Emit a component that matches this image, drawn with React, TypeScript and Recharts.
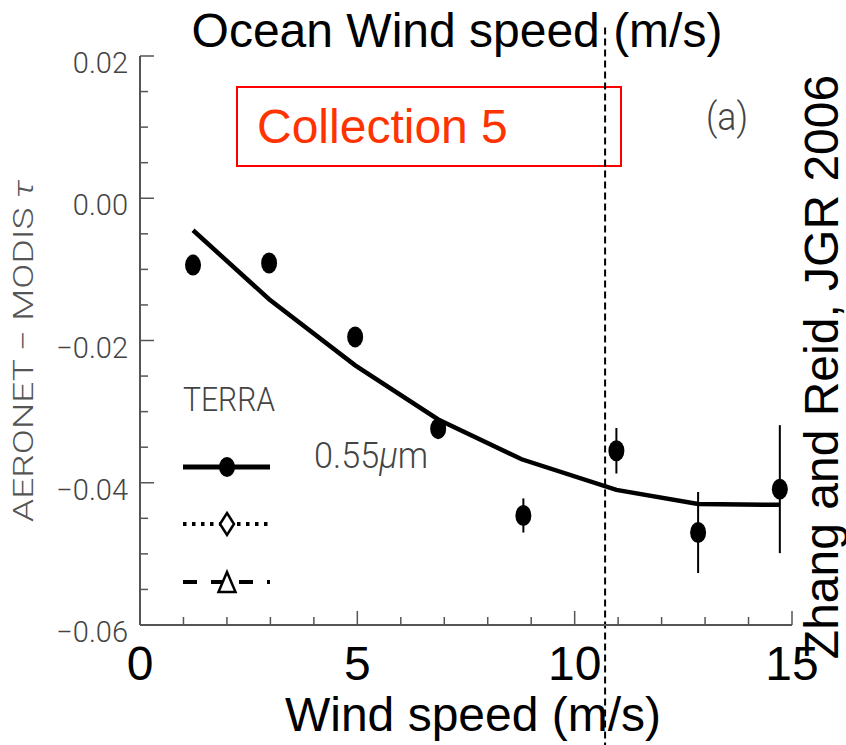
import { ComposedChart, Line, Scatter, ErrorBar, XAxis, YAxis, ReferenceLine } from 'recharts';

// binned wind speed (m/s) and mean AERONET - MODIS difference
const windBins = [1.22, 2.97, 4.95, 6.86, 8.82, 10.96, 12.84, 14.72];
const meanDiff = [-0.0094, -0.0091, -0.0195, -0.0324, -0.0446, -0.0355, -0.047, -0.0409];
const diffErr = [0.0008, 0.0008, 0.0008, 0.0012, 0.0024, 0.0032, 0.0057, 0.009];

// fitted curve
const fitWind = [1.22, 2.97, 4.95, 6.86, 8.78, 10.96, 12.84, 14.72];
const fitDiff = [-0.0045, -0.0142, -0.0235, -0.0311, -0.0367, -0.041, -0.043, -0.0431];

const xTicks = [0, 1, 2, 3, 4, 5, 6, 7, 8, 9, 10, 11, 12, 13, 14, 15];
const xLabelTicks = [0, 5, 10, 15];
const yTicks = [
  -0.06, -0.055, -0.05, -0.045, -0.04, -0.035, -0.03, -0.025, -0.02, -0.015, -0.01, -0.005, 0, 0.005, 0.01,
  0.015, 0.02,
];
const yLabelTicks = [-0.06, -0.04, -0.02, 0, 0.02];
const cutoffWind = 10.7;

const points = windBins.map((w, i) => ({ wind: w, diff: meanDiff[i], err: diffErr[i] }));
const fit = fitWind.map((w, i) => ({ wind: w, fit: fitDiff[i] }));

const frame = '#555';
const arial = "'Liberation Sans', Arial, sans-serif";
const thin = "Roboto, 'DejaVu Sans', sans-serif";

const isLabel = (list: number[], v: number) => list.some((t) => Math.abs(t - v) < 1e-9);

function BottomTick(props: any) {
  const { x, y, payload } = props;
  const major = isLabel(xLabelTicks, payload.value);
  return (
    <g>
      <line x1={x} y1={y} x2={x} y2={y - (major ? 14 : 8)} stroke={frame} strokeWidth={1.5} />
      {major && (
        <text x={x} y={y + 55} textAnchor="middle" fontSize={48} fontFamily={arial} fill="#000">
          {payload.value}
        </text>
      )}
    </g>
  );
}

function TopTick(props: any) {
  const { x, y, payload } = props;
  const major = isLabel(xLabelTicks, payload.value);
  return <line x1={x} y1={y} x2={x} y2={y + (major ? 14 : 8)} stroke={frame} strokeWidth={1.5} />;
}

function LeftTick(props: any) {
  const { x, y, payload } = props;
  const v = payload.value;
  const major = isLabel(yLabelTicks, v);
  const s = Math.abs(v).toFixed(2);
  return (
    <g>
      <line x1={x} y1={y} x2={x + (major ? 14 : 8)} y2={y} stroke={frame} strokeWidth={1.5} />
      {major && (
        <text x={x - 12} y={y + 17} textAnchor="end" fontSize={29} fontFamily={thin} fontWeight={300} fill="#444">
          {v < -1e-9 ? '\u2212' + s : s}
        </text>
      )}
    </g>
  );
}

function RightTick(props: any) {
  const { x, y, payload } = props;
  const major = isLabel(yLabelTicks, payload.value);
  return <line x1={x} y1={y} x2={x - (major ? 14 : 8)} y2={y} stroke={frame} strokeWidth={1.5} />;
}

const EllipseDot = (props: any) => <ellipse cx={props.cx} cy={props.cy} rx={8} ry={10.5} fill="#000" />;

function Annotations() {
  return (
    <svg width={846} height={745} style={{ position: 'absolute', left: 0, top: 0 }}>
      <text x={457} y={47} textAnchor="middle" fontSize={48} fontFamily={arial} fill="#000">
        Ocean Wind speed (m/s)
      </text>
      <text x={473} y={731} textAnchor="middle" fontSize={48} fontFamily={arial} fill="#000">
        Wind speed (m/s)
      </text>
      <text
        transform="translate(33,351) rotate(-90)"
        textAnchor="middle"
        fontSize={28}
        fontFamily={thin}
        fontWeight={300}
        fill="#555"
        textLength={342}
        lengthAdjust="spacingAndGlyphs"
      >
        AERONET {'\u2212'} MODIS <tspan fontStyle="italic">τ</tspan>
      </text>
      <text transform="translate(838,367) rotate(-90)" textAnchor="middle" fontSize={48} fontFamily={arial} fill="#000">
        Zhang and Reid, JGR 2006
      </text>
      <rect x={237} y={87} width={384} height={79} fill="none" stroke="#ff0000" strokeWidth={2} />
      <text x={257} y={143} fontSize={48} fontFamily={arial} fill="#ff3300">
        Collection 5
      </text>
      <text x={706} y={130} fontSize={38} fontFamily={thin} fontWeight={300} fill="#444" textLength={42} lengthAdjust="spacingAndGlyphs">
        (a)
      </text>
      <text x={183} y={411} fontSize={34} fontFamily={thin} fontWeight={300} fill="#444" textLength={92} lengthAdjust="spacingAndGlyphs">
        TERRA
      </text>
      <text x={314} y={468} fontSize={36} fontFamily={thin} fontWeight={300} fill="#444" textLength={114} lengthAdjust="spacingAndGlyphs">
        0.55<tspan fontStyle="italic">μ</tspan>m
      </text>
      {/* legend: solid + dot */}
      <line x1={183} y1={467} x2={270} y2={467} stroke="#000" strokeWidth={5} />
      <ellipse cx={227} cy={467} rx={8} ry={10} fill="#000" />
      {/* dotted + diamond */}
      <line x1={183} y1={524} x2={268} y2={524} stroke="#000" strokeWidth={4} strokeDasharray="3.5 5.5" />
      <polygon points="227,513 234,524 227,535 220,524" fill="#fff" stroke="#000" strokeWidth={2.5} />
      {/* dashed + triangle */}
      <line x1={183} y1={582} x2={270} y2={582} stroke="#000" strokeWidth={4} strokeDasharray="14 14" />
      <polygon points="227,572 235.5,592 218.5,592" fill="#fff" stroke="#000" strokeWidth={2.5} />
    </svg>
  );
}

export default function App() {
  return (
    <div style={{ position: 'absolute', left: 0, top: 0, width: 846, height: 745, background: '#fff' }}>
      <Annotations />
      <div style={{ position: 'absolute', left: 0, top: 0 }}>
        <ComposedChart width={846} height={745} margin={{ top: 56, right: 54, bottom: 0, left: 0 }}>
          <XAxis
            dataKey="wind"
            type="number"
            domain={[0, 15]}
            ticks={xTicks}
            interval={0}
            height={120}
            tickSize={0}
            tickMargin={0}
            tick={<BottomTick />}
            axisLine={{ stroke: frame, strokeWidth: 2 }}
          />
          <XAxis
            xAxisId="top"
            orientation="top"
            dataKey="wind"
            type="number"
            domain={[0, 15]}
            ticks={xTicks}
            interval={0}
            height={0}
            tickSize={0}
            tickMargin={0}
            tick={<TopTick />}
            axisLine={{ stroke: frame, strokeWidth: 2 }}
          />
          <YAxis
            type="number"
            domain={[-0.06, 0.02]}
            allowDataOverflow
            ticks={yTicks}
            interval={0}
            width={140}
            tickSize={0}
            tickMargin={0}
            tick={<LeftTick />}
            axisLine={{ stroke: frame, strokeWidth: 2 }}
          />
          <YAxis
            yAxisId="right"
            orientation="right"
            type="number"
            domain={[-0.06, 0.02]}
            allowDataOverflow
            ticks={yTicks}
            interval={0}
            width={0}
            tickSize={0}
            tickMargin={0}
            tick={<RightTick />}
            axisLine={{ stroke: frame, strokeWidth: 2 }}
          />
          <Line
            data={fit}
            dataKey="fit"
            type="linear"
            stroke="#000"
            strokeWidth={4.5}
            dot={false}
            isAnimationActive={false}
          />
          <Scatter data={points} dataKey="diff" shape={<EllipseDot />} isAnimationActive={false}>
            <ErrorBar dataKey="err" direction="y" width={0} stroke="#000" strokeWidth={2} />
          </Scatter>
          <ReferenceLine
            segment={[
              { x: cutoffWind, y: 0.024 },
              { x: cutoffWind, y: -0.077 },
            ]}
            ifOverflow="visible"
            stroke="#000"
            strokeWidth={2}
            strokeDasharray="7 4"
          />
        </ComposedChart>
      </div>
    </div>
  );
}
